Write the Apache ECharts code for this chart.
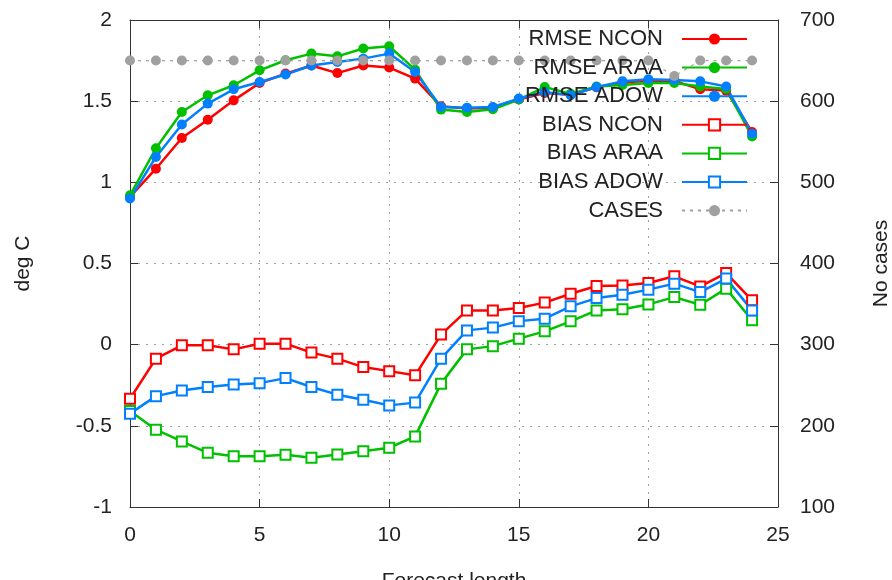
<!DOCTYPE html>
<html>
<head>
<meta charset="utf-8">
<script src="https://cdn.jsdelivr.net/npm/echarts@6/dist/echarts.min.js"></script>
<style>
html,body{margin:0;padding:0;background:#fff;}
#chart{width:892px;height:580px;}
</style>
</head>
<body>
<div id="chart"></div>
<script>
const forecastLength = [0,1,2,3,4,5,6,7,8,9,10,11,12,13,14,15,16,17,18,19,20,21,22,23,24];
const rmseNCON = [0.91,1.084,1.273,1.386,1.505,1.612,1.67,1.72,1.673,1.72,1.707,1.639,1.468,1.455,1.46,1.51,1.55,1.54,1.585,1.615,1.625,1.625,1.573,1.565,1.31];
const rmseARAA = [0.92,1.21,1.433,1.536,1.598,1.69,1.752,1.793,1.776,1.824,1.838,1.694,1.448,1.433,1.45,1.51,1.587,1.545,1.59,1.6,1.612,1.612,1.59,1.575,1.283];
const rmseADOW = [0.9,1.156,1.356,1.485,1.573,1.618,1.664,1.72,1.741,1.762,1.793,1.68,1.464,1.46,1.464,1.516,1.556,1.536,1.587,1.622,1.635,1.63,1.622,1.59,1.3];
const biasNCON = [-0.333,-0.086,-0.004,-0.004,-0.029,0.006,0.006,-0.049,-0.086,-0.138,-0.163,-0.189,0.062,0.211,0.211,0.226,0.259,0.314,0.361,0.365,0.38,0.421,0.359,0.441,0.273];
const biasARAA = [-0.409,-0.524,-0.596,-0.666,-0.688,-0.688,-0.678,-0.696,-0.676,-0.657,-0.635,-0.565,-0.24,-0.029,-0.009,0.037,0.082,0.144,0.211,0.218,0.248,0.293,0.246,0.345,0.15];
const biasADOW = [-0.425,-0.317,-0.282,-0.261,-0.245,-0.237,-0.206,-0.261,-0.308,-0.339,-0.374,-0.357,-0.086,0.088,0.105,0.145,0.16,0.236,0.287,0.308,0.339,0.376,0.324,0.407,0.211];
const cases = [650,650,650,650,650,650,650,650,650,650,650,650,650,650,650,650,650,650,650,650,650,631,650,650,650];

const FONT = "'Liberation Sans', Arial, sans-serif";
const RED = '#ff0000', GREEN = '#00c000', BLUE = '#0080ff', GRAY = '#a0a0a0';
const pairs = ys => forecastLength.map((x, i) => [x, ys[i]]);

function lineSeries(name, ys, color, symbol, yAxisIndex, dashed) {
  return {
    name: name,
    type: 'line',
    xAxisIndex: 0,
    yAxisIndex: yAxisIndex,
    data: pairs(ys),
    symbol: symbol,
    symbolSize: 10,
    showAllSymbol: true,
    animation: false,
    lineStyle: { color: color, width: dashed ? 1.2 : 2.5, type: dashed ? [3, 5] : 'solid' },
    itemStyle: { color: color, borderColor: color, borderWidth: symbol === 'emptyRect' ? 2 : 0 },
    emphasis: { disabled: true }
  };
}

const chart = echarts.init(document.getElementById('chart'), null, { renderer: 'canvas' });
const axisLineStyle = { color: '#333', width: 1 };
const labelStyle = { color: '#222', fontSize: 21, fontFamily: FONT };
chart.setOption({
  backgroundColor: '#fff',
  animation: false,
  textStyle: { fontFamily: FONT },
  grid: { left: 130, right: 114, top: 20, bottom: 73, containLabel: false, outerBoundsMode: 'none' },
  legend: {
    orient: 'vertical',
    right: 139,
    top: 23,
    align: 'right',
    itemWidth: 65,
    itemHeight: 14,
    itemGap: 6.6,
    selectedMode: false,
    textStyle: { color: '#222', fontSize: 22, fontFamily: FONT, lineHeight: 22, padding: [0, 14, 0, 0] },
    data: ['RMSE NCON', 'RMSE ARAA', 'RMSE ADOW', 'BIAS NCON', 'BIAS ARAA', 'BIAS ADOW', 'CASES']
  },
  xAxis: [
    {
      type: 'value', min: 0, max: 25, interval: 5, position: 'bottom',
      name: 'Forecast length', nameLocation: 'middle', nameGap: 64,
      nameTextStyle: { color: '#222', fontSize: 21, fontFamily: FONT },
      axisLine: { show: true, onZero: false, lineStyle: axisLineStyle },
      axisTick: { show: true, inside: true, length: 8, lineStyle: axisLineStyle },
      axisLabel: Object.assign({ margin: 18 }, labelStyle),
      splitLine: { show: true, lineStyle: { color: GRAY, width: 1, type: [2, 6] } }
    },
    {
      type: 'value', min: 0, max: 25, interval: 5, position: 'top',
      axisLine: { show: true, onZero: false, lineStyle: axisLineStyle },
      axisTick: { show: true, inside: true, length: 8, lineStyle: axisLineStyle },
      axisLabel: { show: false },
      splitLine: { show: false }
    }
  ],
  yAxis: [
    {
      type: 'value', min: -1, max: 2, interval: 0.5, position: 'left',
      name: 'deg C', nameLocation: 'middle', nameGap: 96, nameRotate: 90,
      nameTextStyle: { color: '#222', fontSize: 21, fontFamily: FONT },
      axisLine: { show: true, onZero: false, lineStyle: axisLineStyle },
      axisTick: { show: true, inside: true, length: 8, lineStyle: axisLineStyle },
      axisLabel: Object.assign({ margin: 18 }, labelStyle),
      splitLine: { show: true, lineStyle: { color: GRAY, width: 1, type: [2, 6] } }
    },
    {
      type: 'value', min: 100, max: 700, interval: 100, position: 'right',
      name: 'No cases', nameLocation: 'middle', nameGap: 93, nameRotate: 90,
      nameTextStyle: { color: '#222', fontSize: 21, fontFamily: FONT },
      axisLine: { show: true, onZero: false, lineStyle: axisLineStyle },
      axisTick: { show: true, inside: true, length: 8, lineStyle: axisLineStyle },
      axisLabel: Object.assign({ margin: 22 }, labelStyle),
      splitLine: { show: false }
    }
  ],
  series: [
    lineSeries('RMSE NCON', rmseNCON, RED, 'circle', 0, false),
    lineSeries('RMSE ARAA', rmseARAA, GREEN, 'circle', 0, false),
    lineSeries('RMSE ADOW', rmseADOW, BLUE, 'circle', 0, false),
    lineSeries('BIAS NCON', biasNCON, RED, 'emptyRect', 0, false),
    lineSeries('BIAS ARAA', biasARAA, GREEN, 'emptyRect', 0, false),
    lineSeries('BIAS ADOW', biasADOW, BLUE, 'emptyRect', 0, false),
    lineSeries('CASES', cases, GRAY, 'circle', 1, true)
  ]
});
</script>
</body>
</html>
